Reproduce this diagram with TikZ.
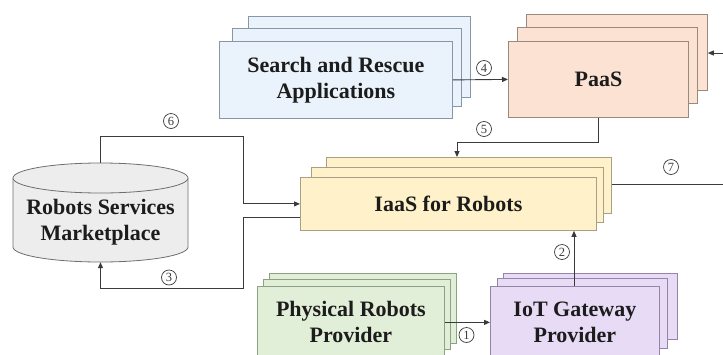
\documentclass[tikz,border=0pt]{standalone}
\usepackage{fontspec}
\setmainfont{Liberation Serif}
\usetikzlibrary{arrows.meta,calc}

\definecolor{txt}{HTML}{1C1C1C}
\definecolor{wirec}{HTML}{3A3A3A}
\definecolor{numc}{HTML}{3A3A3A}
\definecolor{sarfill}{HTML}{EAF2FB}
\definecolor{sarline}{HTML}{8796A8}
\definecolor{paasfill}{HTML}{FBE2D2}
\definecolor{paasline}{HTML}{9A8A7E}
\definecolor{iaasfill}{HTML}{FFF1CA}
\definecolor{iaasline}{HTML}{A8A084}
\definecolor{physfill}{HTML}{E1EED8}
\definecolor{physline}{HTML}{8FA184}
\definecolor{iotfill}{HTML}{E8DBF6}
\definecolor{iotline}{HTML}{9484A8}
\definecolor{cylfill}{HTML}{EDEDED}
\definecolor{cylline}{HTML}{6E6E6E}

\begin{document}
\begin{tikzpicture}[x=1pt,y=-1pt,
  box/.style={draw, line width=0.8pt, anchor=north west, inner sep=0pt,
    align=center, text=txt, font=\bfseries\fontsize{22}{26}\selectfont},
  sarbox/.style={box, draw=sarline, fill=sarfill},
  paasbox/.style={box, draw=paasline, fill=paasfill},
  iaasbox/.style={box, draw=iaasline, fill=iaasfill},
  physbox/.style={box, draw=physline, fill=physfill},
  iotbox/.style={box, draw=iotline, fill=iotfill},
  wire/.style={draw=wirec, line width=0.9pt},
  arr/.style={wire, -{Triangle[length=6pt,width=5pt]}},
  num/.style={circle, draw=numc, line width=0.7pt, inner sep=0pt,
    minimum size=15pt, text=numc, font=\fontsize{12.5}{12.5}\selectfont},
  lbl/.style={align=center, text=txt, font=\bfseries\fontsize{22}{26}\selectfont}
]
\useasboundingbox (0,0) rectangle (723,354);
\clip (0,0) rectangle (723,354);

% Search and Rescue stack
\node[sarbox, minimum width=222, minimum height=81] (sar3) at (248,16) {};
\node[sarbox, minimum width=229, minimum height=78] (sar2) at (232,28) {};
\node[sarbox, minimum width=233, minimum height=77] (sar)  at (219,41) {Search and Rescue\\Applications};

% PaaS stack
\node[paasbox, minimum width=181, minimum height=76] (paasb) at (526,14) {};
\node[paasbox, minimum width=180, minimum height=76] (paas2) at (517,27) {};
\node[paasbox, minimum width=180, minimum height=76] (paas)  at (508,41) {PaaS};

% IaaS stack
\node[iaasbox, minimum width=285, minimum height=56] (iaasb) at (326,157) {};
\node[iaasbox, minimum width=292, minimum height=55] (iaas2) at (311,167) {};
\node[iaasbox, minimum width=296, minimum height=53] (iaas)  at (300,177) {IaaS for Robots};

% Physical robots provider stack
\node[physbox, minimum width=187, minimum height=70] (physb) at (269,273) {};
\node[physbox, minimum width=187, minimum height=70] (phys2) at (263,279) {};
\node[physbox, minimum width=187, minimum height=72] (phys)  at (257,286) {Physical Robots\\Provider};

% IoT gateway provider stack
\node[iotbox, minimum width=174, minimum height=66] (iotb) at (503,273) {};
\node[iotbox, minimum width=170, minimum height=70] (iot2) at (497,278) {};
\node[iotbox, minimum width=169, minimum height=72] (iot)  at (490,286) {IoT Gateway\\Provider};

% Marketplace cylinder
\node[minimum width=175, minimum height=99, inner sep=0pt] (cyl) at (100.5,212.5) {};
\filldraw[fill=cylfill, draw=cylline, line width=0.8pt]
  (13,178) -- (13,247) arc[start angle=180, end angle=0, x radius=87.5, y radius=15] -- (188,178);
\filldraw[fill=cylfill, draw=cylline, line width=0.8pt]
  (100.5,178) ellipse[x radius=87.5, y radius=15];
\node[lbl] (cyltext) at (100.5,222) {Robots Services\\Marketplace};

% connectors
\draw[arr] (phys.east) -- (iot.west);
\coordinate (k2) at (574,0);
\draw[arr] (k2 |- iot.north) -- (k2 |- iaas.south);
\coordinate (k3) at (243,288);
\draw[arr] ([yshift=-14pt]iaas.west) -| (k3) -| (cyl.south);
\draw[arr] (sar.east) -- (paas.west);
\coordinate (k5) at (457,142);
\draw[arr] (paas.south) |- (k5) -- (k5 |- iaasb.north);
\coordinate (k6) at (243,136);
\draw[arr] (cyl.north) |- (k6) |- (iaas.west);
\coordinate (outR) at (723,184);
\draw[wire] (iaasb.east |- outR) -- (outR);
\coordinate (inR) at (723,53);
\draw[arr] (inR) -- (inR -| paasb.east);

% step numbers
\node[num] (n1) at (466.5,335) {1};
\node[num] (n2) at (562,252) {2};
\node[num] (n3) at (169,277.5) {3};
\node[num] (n4) at (484,68) {4};
\node[num] (n5) at (484,129) {5};
\node[num] (n6) at (171,121) {6};
\node[num] (n7) at (671,167) {7};
\end{tikzpicture}
\end{document}
